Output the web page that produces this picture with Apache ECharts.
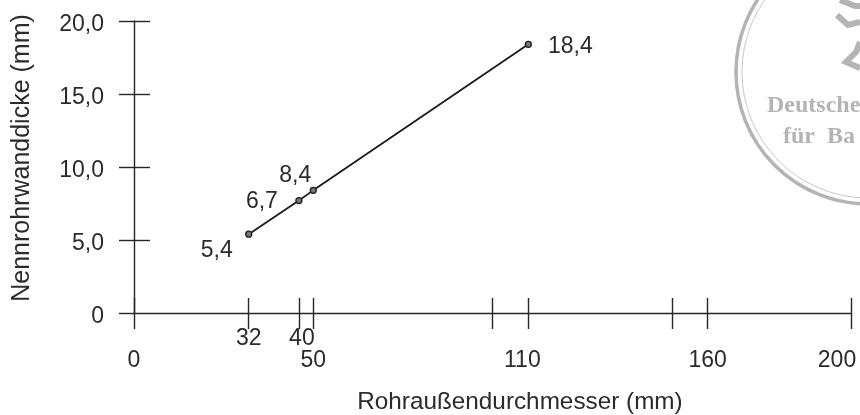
<!DOCTYPE html>
<html>
<head>
<meta charset="utf-8">
<script src="https://cdn.jsdelivr.net/npm/echarts@6/dist/echarts.min.js"></script>
<style>
  html, body { margin: 0; padding: 0; background: #fff; }
  #chartBox { width: 860px; height: 415px; }
</style>
</head>
<body>
<div id="chartBox"></div>
<script>
// Werte
const pointX = [32, 46, 50, 110]
const pointY = [5.4, 7.7, 8.4, 18.4]
const pointLabels = ['5,4', '6,7', '8,4', '18,4']
const labelOffsets = [[-32, 16], [-37, 1], [-18, -15], [42, 2]]

const xTicks = [0, 32, 46, 50, 100, 110, 150, 160, 200]
const xLabelsLower = [0, 50, 110, 160, 200]
const xLabelsUpper = [32, 46]
const xUpperNames = { 32: '32', 46: '{c|40}' }
const yTicks = [0, 5, 10, 15, 20]

const textColor = '#2b2b2b'
const lineColor = '#262626'
const stampColor = '#b4b4b4'
const font = '"Liberation Sans", Arial, sans-serif'
const labelSize = 23

function yFormat (v) {
  return '{y|' + (v === 0 ? '0' : v.toFixed(1).replace('.', ',')) + '}'
}

// 110 und 200 stehen im Original links neben ihrem Strich
function xLowerFormat (v) {
  if (v === 110) return '{a|110}'
  if (v === 200) return '{b|200}'
  return String(v)
}

let lineStyle = { color: lineColor, width: 1.4 }
let richBase = { color: textColor, fontFamily: font, fontSize: labelSize }

let myChart = echarts.init(document.getElementById('chartBox'), null, { renderer: 'canvas' })
myChart.setOption({
  animation: false,
  backgroundColor: '#fff',
  grid: { left: 134, right: 9, top: 21, bottom: 102, outerBoundsMode: 'none' },
  xAxis: [
    {
      type: 'value',
      min: 0,
      max: 200,
      position: 'bottom',
      splitLine: { show: false },
      axisLine: { show: true, onZero: false, lineStyle },
      axisTick: { show: true, length: 16, lineStyle, customValues: xTicks },
      axisLabel: {
        color: textColor,
        fontFamily: font,
        fontSize: labelSize,
        margin: 36,
        hideOverlap: false,
        customValues: xLabelsLower,
        alignMaxLabel: 'center',
        formatter: xLowerFormat,
        rich: {
          a: { ...richBase, padding: [0, 12, 0, 0] },
          b: { ...richBase, padding: [0, 28, 0, 0] }
        }
      },
      name: 'Rohraußendurchmesser (mm)',
      nameLocation: 'middle',
      nameGap: 77,
      nameTextStyle: { color: textColor, fontFamily: font, fontSize: 24.3, padding: [0, 0, 0, 55] }
    },
    {
      type: 'value',
      min: 0,
      max: 200,
      position: 'bottom',
      splitLine: { show: false },
      axisLine: { show: false, onZero: false },
      axisTick: { show: true, inside: true, length: 15, lineStyle, customValues: xTicks },
      axisLabel: {
        color: textColor,
        fontFamily: font,
        fontSize: labelSize,
        margin: 14,
        hideOverlap: false,
        customValues: xLabelsUpper,
        formatter: v => xUpperNames[v],
        rich: {
          c: { ...richBase, padding: [0, 0, 0, 6] }
        }
      }
    }
  ],
  yAxis: [
    {
      type: 'value',
      min: 0,
      max: 20,
      splitLine: { show: false },
      axisLine: { show: true, onZero: false, lineStyle },
      axisTick: { show: true, length: 15, lineStyle, customValues: yTicks },
      axisLabel: {
        color: textColor,
        fontFamily: font,
        fontSize: labelSize,
        margin: 30,
        hideOverlap: false,
        customValues: yTicks,
        formatter: yFormat,
        rich: {
          y: { ...richBase, padding: [7, 0, 0, 0] }
        }
      },
      name: 'Nennrohrwanddicke (mm)',
      nameLocation: 'middle',
      nameGap: 99,
      nameTextStyle: { color: textColor, fontFamily: font, fontSize: 25, padding: [0, 0, 0, 18] }
    },
    {
      type: 'value',
      min: 0,
      max: 20,
      position: 'left',
      splitLine: { show: false },
      axisLine: { show: false, onZero: false },
      axisTick: { show: true, inside: true, length: 16, lineStyle, customValues: [5, 10, 15, 20] },
      axisLabel: { show: false }
    }
  ],
  series: [
    {
      type: 'line',
      data: pointX.map((x, i) => ({
        value: [x, pointY[i]],
        label: {
          show: true,
          position: 'inside',
          offset: labelOffsets[i],
          formatter: pointLabels[i],
          color: textColor,
          fontFamily: font,
          fontSize: labelSize
        }
      })),
      symbol: 'circle',
      symbolSize: 6,
      itemStyle: { color: '#777', borderColor: '#1f1f1f', borderWidth: 1.3 },
      lineStyle: { color: '#1a1a1a', width: 1.8 },
      z: 5
    }
  ],
  // Stempel rechts oben, vom Rand abgeschnitten
  graphic: [
    { type: 'circle', shape: { cx: 868, cy: 72, r: 132 }, style: { fill: 'none', stroke: stampColor, lineWidth: 3.5 }, silent: true },
    { type: 'circle', shape: { cx: 868, cy: 72, r: 126 }, style: { fill: 'none', stroke: '#c8c8c8', lineWidth: 1 }, silent: true },
    { type: 'text', style: { x: 767, y: 94, text: 'Deutsche', fill: stampColor, font: 'bold 24px "Liberation Serif", serif' }, silent: true },
    { type: 'text', style: { x: 783, y: 125, text: 'für  Ba', fill: stampColor, font: 'bold 24px "Liberation Serif", serif' }, silent: true },
    { type: 'polyline', shape: { points: [[840, 0], [855, 6], [860, 6]] }, style: { fill: 'none', stroke: stampColor, lineWidth: 6 }, silent: true },
    { type: 'polyline', shape: { points: [[837, 15], [848, 25], [860, 22]] }, style: { fill: 'none', stroke: stampColor, lineWidth: 6 }, silent: true },
    { type: 'polyline', shape: { points: [[860, 42], [856, 52], [846, 62], [860, 68]] }, style: { fill: 'none', stroke: stampColor, lineWidth: 6 }, silent: true }
  ]
})
</script>
</body>
</html>
